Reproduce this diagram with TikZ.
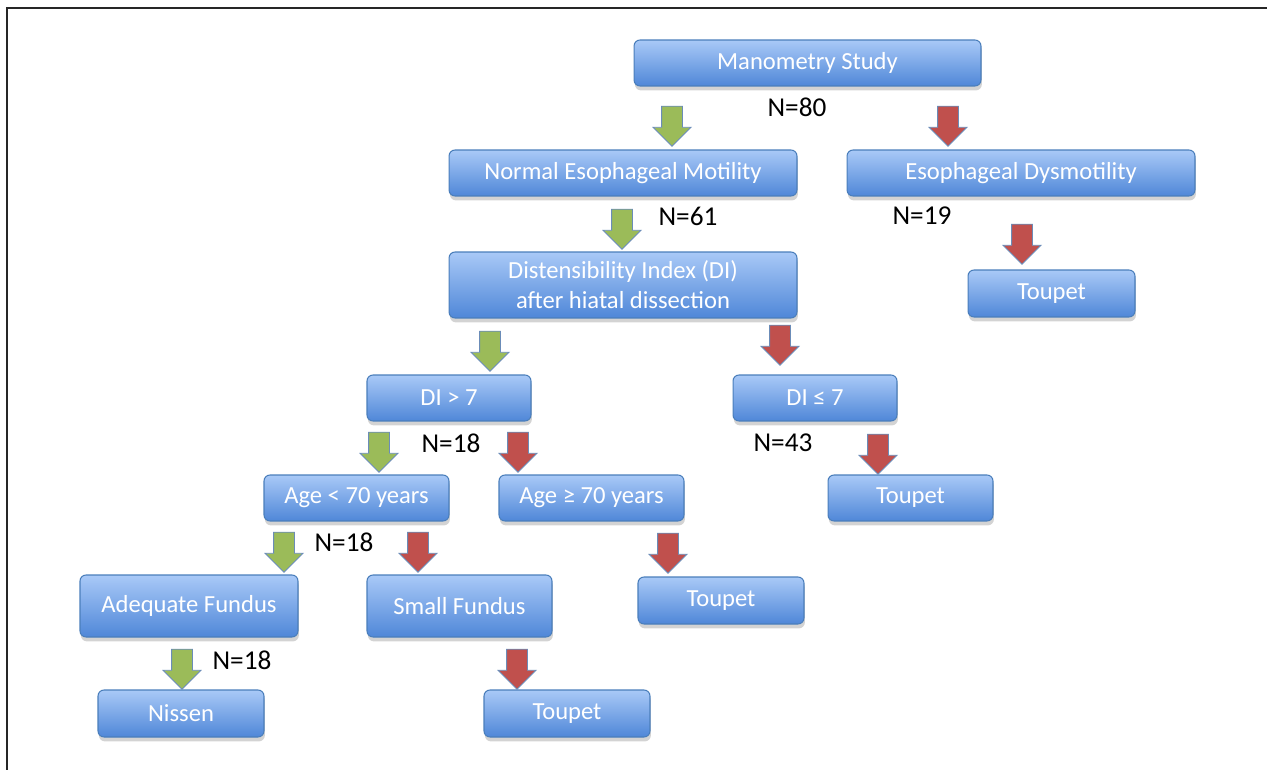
\documentclass[tikz,border=0pt]{standalone}
\usepackage{fontspec}
\setmainfont{Carlito}
\usetikzlibrary{shapes.arrows,shadows}
\definecolor{boxtop}{HTML}{A9C9F7}
\definecolor{boxbot}{HTML}{4F87D8}
\definecolor{boxline}{HTML}{4A7EBB}
\definecolor{grn}{HTML}{9BBB59}
\definecolor{rd}{HTML}{C0504D}
\definecolor{arrline}{HTML}{6B8CB8}
\tikzset{
  box/.style={rectangle, rounded corners=0.12cm, draw=boxline, line width=0.6pt,
    top color=boxtop, bottom color=boxbot, text=white, align=center,
    font=\fontsize{14}{17}\selectfont, minimum height=0.92cm, inner sep=0pt,
    drop shadow={shadow xshift=0.5pt, shadow yshift=-2.5pt, opacity=0.35}},
  blkarrow/.style={single arrow, shape border rotate=270, draw=arrline, line width=0.5pt,
    minimum height=0.8cm, single arrow head extend=0.17cm,
    inner xsep=0.2cm, inner ysep=0.2cm},
  garrow/.style={blkarrow, fill=grn},
  rarrow/.style={blkarrow, fill=rd},
  nlab/.style={font=\fontsize{15.5}{18}\selectfont, text=black}
}
\begin{document}
\begin{tikzpicture}[x=0.02cm,y=-0.02cm]
\useasboundingbox (0,0) rectangle (1267,770);
\draw[line width=0.05cm, black!85] (7,770) -- (7,8) -- (1267,8);
% boxes
\node[box, minimum width=6.94cm] (mano) at (807.5,63) {Manometry Study};
\node[box, minimum width=6.96cm] (norm) at (623,173) {Normal Esophageal Motility};
\node[box, minimum width=6.96cm] (dysm) at (1021,173) {Esophageal Dysmotility};
\node[box, minimum width=6.96cm, minimum height=1.32cm] (dist) at (623,285) {Distensibility Index (DI)\\after hiatal dissection};
\node[box, minimum width=3.34cm, minimum height=0.94cm] (toupA) at (1051.5,293.5) {Toupet};
\node[box, minimum width=3.28cm] (dihi) at (449,398) {DI > 7};
\node[box, minimum width=3.28cm] (dilo) at (815,398) {DI ≤ 7};
\node[box, minimum width=3.7cm] (young) at (356.5,498) {Age < 70 years};
\node[box, minimum width=3.7cm] (old) at (591.5,498) {Age ≥ 70 years};
\node[box, minimum width=3.3cm] (toupB) at (910.5,498) {Toupet};
\node[box, minimum width=4.36cm, minimum height=1.24cm] (adeq) at (189,606) {Adequate Fundus};
\node[box, minimum width=3.7cm, minimum height=1.24cm] (small) at (459.5,606) {Small Fundus};
\node[box, minimum width=3.32cm, minimum height=0.94cm] (toupC) at (721,600.5) {Toupet};
\node[box, minimum width=3.32cm, minimum height=0.94cm] (niss) at (181,713.5) {Nissen};
\node[box, minimum width=3.32cm, minimum height=0.94cm] (toupD) at (567,713.5) {Toupet};
% block arrows
\node[garrow] (a1) at (672,121) {};
\node[rarrow] (a2) at (948,121) {};
\node[garrow] (a3) at (622,224) {};
\node[rarrow] (a4) at (1022,239) {};
\node[garrow] (a5) at (490,346) {};
\node[rarrow] (a6) at (780,340) {};
\node[garrow] (a7) at (379,447) {};
\node[rarrow] (a8) at (518,447) {};
\node[rarrow] (a9) at (878,449) {};
\node[garrow] (a10) at (284,547) {};
\node[rarrow] (a11) at (418,547) {};
\node[rarrow] (a12) at (668,548) {};
\node[garrow] (a13) at (182,664) {};
\node[rarrow] (a14) at (517,664) {};
% counts
\node[nlab] (n80) at (797,107) {N=80};
\node[nlab] (n61) at (688,216) {N=61};
\node[nlab] (n19) at (922,216) {N=19};
\node[nlab] (n18a) at (451,443) {N=18};
\node[nlab] (n43) at (783,443) {N=43};
\node[nlab] (n18b) at (344,542) {N=18};
\node[nlab] (n18c) at (242,660) {N=18};
\end{tikzpicture}
\end{document}
